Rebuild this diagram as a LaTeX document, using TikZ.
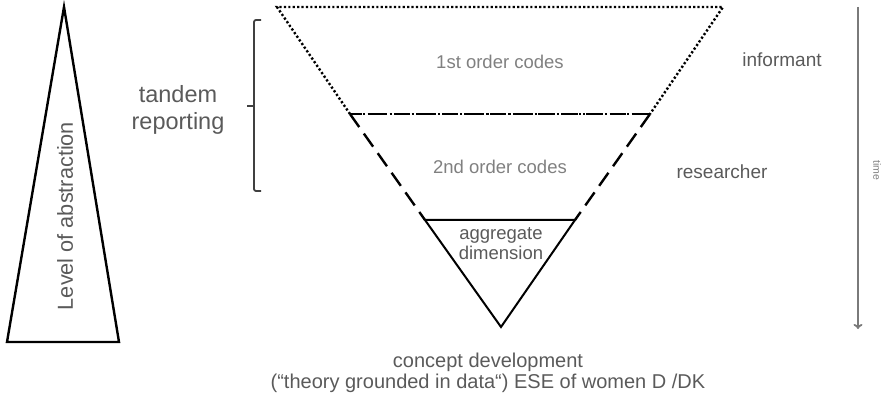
\documentclass[tikz,border=0pt]{standalone}
\usepackage{fontspec}
\setmainfont{Liberation Sans}
\usetikzlibrary{arrows.meta}
\definecolor{txtgray}{HTML}{5A5A5A}
\definecolor{lightgray}{HTML}{808080}
\definecolor{arrgray}{HTML}{7A7A7A}
\definecolor{brk}{HTML}{404040}
\tikzset{
  lbl/.style={inner sep=0pt, text=txtgray, align=center},
  dotline/.style={line width=2.4pt, dash pattern=on 2.2pt off 2.2pt, line cap=butt},
  dashline/.style={line width=2.4pt, dash pattern=on 16pt off 8pt},
  solidline/.style={line width=2pt, line join=miter},
}
\begin{document}
\begin{tikzpicture}[x=1pt,y=-1pt]
\useasboundingbox (0,0) rectangle (887,401);
% coordinates
\coordinate (lt) at (64,7);
\coordinate (ll) at (7,342);
\coordinate (lr) at (119,342);
\coordinate (t1) at (277,7);
\coordinate (t2) at (723,7);
\coordinate (m1) at (350,114);
\coordinate (m2) at (650,114);
\coordinate (b1) at (425,220);
\coordinate (b2) at (575,220);
\coordinate (apex) at (501,327);
% left triangle
\draw[line width=2.4pt, line join=miter] (lt) -- (lr) -- (ll) -- cycle;
\node[lbl, rotate=90, font=\fontsize{21.7}{24}\selectfont] (loa) at (65,216) {Level of abstraction};
% tandem reporting
\node[lbl, font=\fontsize{23.5}{28}\selectfont] (tr) at (178,110) {tandem\\[-1pt]reporting};
\draw[brk, line width=1.8pt, rounded corners=2pt] (261,20) -- (254,20) -- (254,191) -- (261,191);
\draw[brk, line width=1.8pt] (254,106) -- (247,106);
% top trapezoid dotted
\draw[dotline] (m1) -- (t1) -- (t2) -- (m2);
\draw[dotline] (m1) -- (m2);
% second trapezoid dashed
\draw[dashline] (m1) -- (b1);
\draw[dashline] (m2) -- (b2);
\draw[dashline, dash phase=4pt] (m1) -- (m2);
% bottom triangle
\draw[solidline] (b1) -- (b2) -- (apex) -- cycle;
% labels
\node[lbl, text=lightgray, font=\fontsize{18.5}{22}\selectfont] (c1) at (500,62) {1st order codes};
\node[lbl, text=lightgray, font=\fontsize{18.5}{22}\selectfont] (c2) at (500,167) {2nd order codes};
\node[lbl, font=\fontsize{18.5}{22}\selectfont] (agg) at (501,244) {aggregate\\[-2pt]dimension};
\node[lbl, font=\fontsize{19}{22}\selectfont] (inf) at (782,60) {informant};
\node[lbl, font=\fontsize{19}{22}\selectfont] (res) at (722,172) {researcher};
\node[lbl, font=\fontsize{20}{22}\selectfont] (cd) at (488,362) {concept development};
\node[lbl, font=\fontsize{20}{22}\selectfont] (gr) at (488,383) {(\char"201C theory grounded in data\char"201C) ESE of women D /DK};
% time arrow
\coordinate (ta) at (858,7);
\coordinate (tb) at (858,329);
\draw[arrgray, line width=1.8pt, -{To[length=5pt,width=9pt]}] (ta) -- (tb);
\node[lbl, text=lightgray, rotate=-90, font=\fontsize{10.5}{12}\selectfont] (time) at (877,170) {time};
\end{tikzpicture}
\end{document}
